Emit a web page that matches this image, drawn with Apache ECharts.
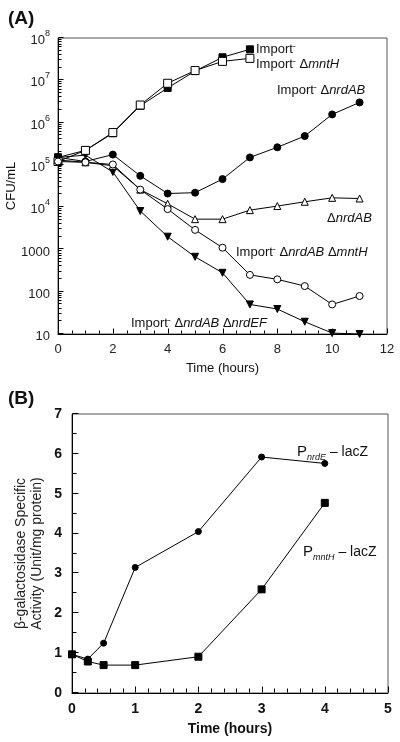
<!DOCTYPE html>
<html><head><meta charset="utf-8">
<script src="https://cdn.jsdelivr.net/npm/echarts@6/dist/echarts.min.js"></script>
<style>html,body{margin:0;padding:0;background:#fff}#c{width:400px;height:742px}</style>
</head><body><div id="c"></div>
<script>
// ---- Panel A data (CFU/mL vs time, hours) ----
const timeA = [0,1,2,3,4,5,6,7,8,9,10,11];
const importNeg      = [1.5e5, 2.2e5, 5.6e5, 2.5e6, 6.6e6, 1.65e7, 3.5e7, 5.4e7];
const importMntH     = [1.2e5, 2.2e5, 5.8e5, 2.6e6, 8.5e6, 1.7e7, 2.8e7, 3.3e7];
const importNrdAB    = [1.5e5, 1.2e5, 1.75e5, 5.5e4, 2.1e4, 2.2e4, 4.6e4, 1.5e5, 2.6e5, 4.8e5, 1.56e6, 3.0e6];
const nrdAB          = [1.3e5, 1.15e5, 9.5e4, 2.6e4, 1.2e4, 5.2e3, 5.2e3, 8.5e3, 1.06e4, 1.34e4, 1.66e4, 1.6e4];
const importNrdABMntH= [1.2e5, 1.15e5, 1.02e5, 2.6e4, 9.0e3, 2.9e3, 1.1e3, 250, 196, 136, 50, 79];
const importNrdABEF  = [1.5e5, 1.7e5, 6.8e4, 8.1e3, 2.0e3, 670, 280, 50, 39, 19.5, 10.5, 10];
// ---- Panel B data (beta-galactosidase activity vs time, hours) ----
const timeB  = [0, 0.25, 0.5, 1, 2, 3, 4];
const pNrdE  = [0.97, 0.85, 1.25, 3.15, 4.05, 5.92, 5.76];
const pMntH  = [0.97, 0.79, 0.70, 0.70, 0.91, 2.60, 4.77];
// ---- tick labels ----
const xTicksA = [0,2,4,6,8,10,12];
const yTicksA = [10,100,1000,1e4,1e5,1e6,1e7,1e8];
const xTicksB = [0,1,2,3,4,5];
const yTicksB = [0,1,2,3,4,5,6,7];

const FONT = '"Liberation Sans", Arial, sans-serif';
function pairs(xs, ys){ return ys.map((y,i)=>[xs[i], y]); }

const chart = echarts.init(document.getElementById('c'), null, {renderer:'canvas'});

function lineSeries(name, xi, yi, data, symbol, size, filled, rotate){
  return {
    type:'line', name, xAxisIndex:xi, yAxisIndex:yi, data,
    symbol, symbolSize:size, symbolRotate: rotate||0, showAllSymbol:true,
    lineStyle:{color:'#000', width:1},
    itemStyle:{color: filled ? '#000' : '#fff', borderColor:'#000', borderWidth:1},
    emphasis:{disabled:true}, animation:false, z: filled?3:4
  };
}

// tick marks (drawn through the axes' own scales with a custom series)
function buildTicksA(){
  const t = [];
  for (let i = 0; i <= 24; i++) t.push([i/2, yTicksA[0], (i % 4 === 0) ? 5 : 3, 0]);
  for (let d = 0; d < yTicksA.length - 1; d++) {
    for (let k = 1; k <= 9; k++) t.push([xTicksA[0], yTicksA[d]*k, k === 1 ? 5 : 3, 1]);
  }
  t.push([xTicksA[0], yTicksA[yTicksA.length-1], 5, 1]);
  return t;
}
function buildTicksB(){
  const t = [];
  for (let i = 0; i <= 25; i++) t.push([i/5, yTicksB[0], (i % 5 === 0) ? 6 : 4, 0]);
  for (let i = 0; i <= 14; i++) t.push([xTicksB[0], i/2, (i % 2 === 0) ? 6 : 4, 1]);
  return t;
}
function renderTick(params, api){
  const p = api.coord([api.value(0), api.value(1)]);
  const len = api.value(2), dir = api.value(3);
  const x = Math.round(p[0]) + 0.5, y = Math.round(p[1]) - 0.5;
  const shape = dir === 0 ? {x1:x, y1:y, x2:x, y2:y-len} : {x1:x, y1:y+0.0, x2:x+len, y2:y};
  return {type:'line', shape, style:{stroke:'#000', lineWidth:1}, silent:true};
}
function tickSeries(xi, yi, data){
  return {type:'custom', xAxisIndex:xi, yAxisIndex:yi, data, renderItem:renderTick,
          clip:false, silent:true, z:6, animation:false, tooltip:{show:false}};
}

const supLabel = function(v){
  const e = Math.round(Math.log10(v));
  if (e <= 3) return '{b|' + Math.round(v) + '}';
  return '{b|10}{s|' + e + '}';
};

const noTick = {show:false};
const option = {
  animation:false,
  backgroundColor:'#fff',
  grid:[
    {left:58, top:38, width:329, height:296, containLabel:false, outerBoundsMode:'none',
     show:true, borderColor:'#555', borderWidth:1, backgroundColor:'rgba(0,0,0,0)'},
    {left:72, top:414, width:316, height:279, containLabel:false, outerBoundsMode:'none',
     show:true, borderColor:'#555', borderWidth:1, backgroundColor:'rgba(0,0,0,0)'}
  ],
  xAxis:[
    {gridIndex:0, type:'value', min:0, max:12, interval:2,
     axisLine:{show:true, onZero:false, lineStyle:{color:'#000', width:1}},
     axisTick:noTick, minorTick:noTick, splitLine:{show:false},
     axisLabel:{color:'#222', fontSize:13, fontFamily:FONT, margin:9},
     name:'Time (hours)', nameLocation:'middle', nameGap:28, nameMoveOverlap:false,
     nameTextStyle:{color:'#111', fontSize:13, fontFamily:FONT}},
    {gridIndex:1, type:'value', min:0, max:5, interval:1,
     axisLine:{show:true, onZero:false, lineStyle:{color:'#000', width:1}},
     axisTick:noTick, minorTick:noTick, splitLine:{show:false},
     axisLabel:{color:'#111', fontSize:14, fontWeight:'bold', fontFamily:FONT, margin:9},
     name:'Time (hours)', nameLocation:'middle', nameGap:29, nameMoveOverlap:false,
     nameTextStyle:{color:'#111', fontSize:14, fontWeight:'bold', fontFamily:FONT}}
  ],
  yAxis:[
    {gridIndex:0, type:'log', logBase:10, min:10, max:1e8,
     axisLine:{show:true, onZero:false, lineStyle:{color:'#000', width:1}},
     axisTick:noTick, minorTick:noTick, splitLine:{show:false},
     axisLabel:{formatter:supLabel, margin:8, color:'#222',
       rich:{b:{fontSize:13, fontFamily:FONT, color:'#222', lineHeight:18, verticalAlign:'bottom'},
             s:{fontSize:9, fontFamily:FONT, color:'#222', lineHeight:18, verticalAlign:'top'}}},
     name:'CFU/mL', nameLocation:'middle', nameGap:40, nameMoveOverlap:false,
     nameTextStyle:{color:'#111', fontSize:13, fontFamily:FONT}},
    {gridIndex:1, type:'value', min:0, max:7, interval:1,
     axisLine:{show:true, onZero:false, lineStyle:{color:'#000', width:1}},
     axisTick:noTick, minorTick:noTick, splitLine:{show:false},
     axisLabel:{color:'#111', fontSize:14, fontWeight:'bold', fontFamily:FONT, margin:10},
     name:'β-galactosidase Specific\nActivity (Unit/mg protein)', nameLocation:'middle', nameGap:27, nameMoveOverlap:false,
     nameTextStyle:{color:'#222', fontSize:14, fontFamily:FONT, lineHeight:16}}
  ],
  series:[
    lineSeries('Import-', 0,0, pairs(timeA, importNeg), 'rect', 7, true),
    lineSeries('Import- mntH', 0,0, pairs(timeA, importMntH), 'rect', 8, false),
    lineSeries('Import- nrdAB', 0,0, pairs(timeA, importNrdAB), 'circle', 7, true),
    lineSeries('nrdAB', 0,0, pairs(timeA, nrdAB), 'triangle', 7, false),
    lineSeries('Import- nrdAB mntH', 0,0, pairs(timeA, importNrdABMntH), 'circle', 7, false),
    lineSeries('Import- nrdAB nrdEF', 0,0, pairs(timeA, importNrdABEF), 'triangle', 7, true, 180),
    lineSeries('PnrdE', 1,1, pairs(timeB, pNrdE), 'circle', 6, true),
    lineSeries('PmntH', 1,1, pairs(timeB, pMntH), 'rect', 7, true),
    tickSeries(0,0, buildTicksA()),
    tickSeries(1,1, buildTicksB())
  ],
  graphic:[]
};

const labRich = {
  n:{fontSize:13, fontFamily:FONT, fill:'#111'},
  s:{fontSize:9, fontFamily:FONT, fill:'#111', verticalAlign:'top', lineHeight:14},
  i:{fontSize:13, fontFamily:FONT, fontStyle:'italic', fill:'#111'}
};
const labRichB = {
  p:{fontSize:15, fontFamily:FONT, fill:'#111', lineHeight:20, verticalAlign:'middle'},
  sub:{fontSize:9, fontFamily:FONT, fontStyle:'italic', fill:'#111', verticalAlign:'bottom', lineHeight:20},
  n:{fontSize:14, fontFamily:FONT, fill:'#111', lineHeight:20, verticalAlign:'middle'}
};
function txt(x,y,text,rich){
  return {type:'text', x, y, silent:true, z:10,
    style:{text, rich, fill:'#111', font:'13px '+FONT, verticalAlign:'middle', align:'left'}};
}
option.graphic = [
  {type:'text', x:8, y:9, z:10, style:{text:'(A)', font:'bold 19px '+FONT, fill:'#111'}},
  {type:'text', x:8, y:389, z:10, style:{text:'(B)', font:'bold 19px '+FONT, fill:'#111'}},
  txt(256, 49, '{n|Import}{s|-}', labRich),
  txt(256, 64, '{n|Import}{s|-}{n| Δ}{i|mntH}', labRich),
  txt(277, 90, '{n|Import}{s|-}{n| Δ}{i|nrdAB}', labRich),
  txt(327, 218, '{n|Δ}{i|nrdAB}', labRich),
  txt(236, 252, '{n|Import}{s|-}{n| Δ}{i|nrdAB}{n| Δ}{i|mntH}', labRich),
  txt(131, 323, '{n|Import}{s|-}{n| Δ}{i|nrdAB}{n| Δ}{i|nrdEF}', labRich),
  txt(297, 452, '{p|P}{sub|nrdE}{n| – lacZ}', labRichB),
  txt(303, 552, '{p|P}{sub|mntH}{n| – lacZ}', labRichB)
];

chart.setOption(option);
</script>
</body></html>
